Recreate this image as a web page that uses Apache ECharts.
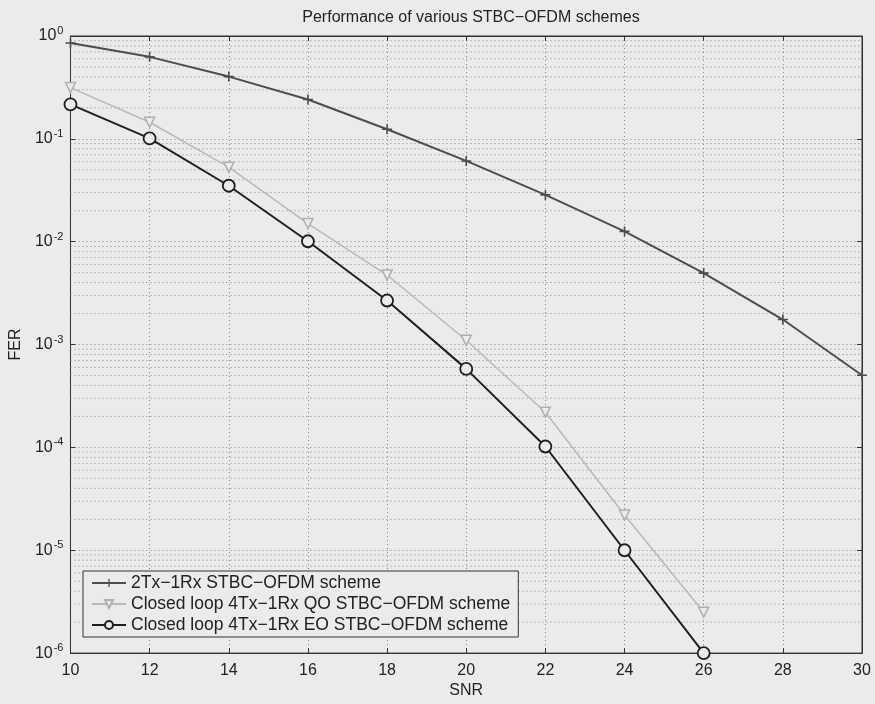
<!DOCTYPE html>
<html>
<head>
<meta charset="utf-8">
<script src="https://cdn.jsdelivr.net/npm/echarts@6/dist/echarts.min.js"></script>
<style>
  html, body { margin: 0; padding: 0; background: #ebebeb; }
  #chart { width: 875px; height: 704px; }
</style>
</head>
<body>
<div id="chart"></div>
<script>
// SNR points (dB)
const snr = [10, 12, 14, 16, 18, 20, 22, 24, 26, 28, 30];

// Frame error rates for each scheme
const ferTwoTx = [0.856, 0.627, 0.403, 0.241, 0.124, 0.061, 0.0285, 0.0126, 0.00495, 0.00175, 0.000503];
const ferQO = [0.315, 0.145, 0.053, 0.0150, 0.00474, 0.0011, 0.00022, 0.000022, 0.0000025];
const ferEO = [0.216, 0.101, 0.035, 0.0101, 0.00268, 0.00058, 0.000102, 0.0000100, 0.0000010];

const seriesNames = [
  '2Tx\u22121Rx STBC\u2212OFDM scheme',
  'Closed loop 4Tx\u22121Rx QO STBC\u2212OFDM scheme',
  'Closed loop 4Tx\u22121Rx EO STBC\u2212OFDM scheme'
];

// Log grid subdivisions within each decade
const decadeExponents = [-6, -5, -4, -3, -2, -1];
const minorSteps = [2, 3, 4, 5, 6, 7, 8, 9];
const snrRange = [10, 30];

const bg = '#ebebeb';
const font = 'Arial, "Liberation Sans", sans-serif';
const gridStyle = { color: '#858585', type: [1, 3], width: 1 };

// one dotted horizontal line per minor grid value, spanning the SNR range
const minorGridSeries = [];
decadeExponents.forEach(e => minorSteps.forEach(k => {
  const v = k * Math.pow(10, e);
  minorGridSeries.push({
    type: 'line', silent: true, symbol: 'none', z: 1,
    data: snrRange.map(x => [x, v]),
    lineStyle: gridStyle,
    tooltip: { show: false }
  });
}));

const pairs = arr => arr.map((v, i) => [snr[i], v]);

const plusPath = 'path://M4.2,0 H5.8 V4.2 H10 V5.8 H5.8 V10 H4.2 V5.8 H0 V4.2 H4.2 Z';

const chart = echarts.init(document.getElementById('chart'), null, { renderer: 'canvas' });

chart.setOption({
  backgroundColor: bg,
  animation: false,
  textStyle: { fontFamily: font },
  title: {
    text: 'Performance of various STBC\u2212OFDM schemes',
    left: 466, top: 5, textAlign: 'center',
    textStyle: { fontSize: 16, fontWeight: 'normal', color: '#222', fontFamily: font }
  },
  grid: {
    left: 70, right: 13, top: 36, bottom: 46,
    show: true, borderColor: '#333', borderWidth: 1, backgroundColor: 'transparent'
  },
  legend: {
    orient: 'vertical',
    left: 83, top: 571,
    backgroundColor: bg,
    borderColor: '#333', borderWidth: 1, borderRadius: 0,
    padding: [3, 8, 3, 8],
    itemGap: 3,
    itemWidth: 34, itemHeight: 10,
    textStyle: { fontSize: 17.5, color: '#222', fontFamily: font },
    data: seriesNames
  },
  xAxis: [{
    type: 'value', min: snrRange[0], max: snrRange[1], interval: 2,
    name: 'SNR', nameLocation: 'middle', nameGap: 27,
    nameTextStyle: { fontSize: 16, color: '#222' },
    axisLine: { show: true, lineStyle: { color: '#333', width: 1 } },
    axisTick: { show: true, inside: true, length: 5, lineStyle: { color: '#333' } },
    axisLabel: { fontSize: 16, color: '#222', margin: 9 },
    splitLine: { show: true, lineStyle: gridStyle }
  }, {
    type: 'value', min: snrRange[0], max: snrRange[1], interval: 2, position: 'top',
    axisLine: { show: true, lineStyle: { color: '#333' } },
    axisTick: { show: true, inside: true, length: 5, lineStyle: { color: '#333' } },
    axisLabel: { show: false },
    splitLine: { show: false }
  }],
  yAxis: [{
    type: 'log', logBase: 10, min: 1e-6, max: 1,
    name: 'FER', nameLocation: 'middle', nameGap: 45,
    nameTextStyle: { fontSize: 16, color: '#222' },
    axisLine: { show: true, lineStyle: { color: '#333', width: 1 } },
    axisTick: { show: true, inside: true, length: 5, lineStyle: { color: '#333' } },
    axisLabel: {
      fontSize: 16, color: '#222', margin: 7,
      formatter: v => '10{sup|' + Math.round(Math.log10(v)) + '}',
      rich: {
        sup: { fontSize: 11, color: '#222', padding: [0, 0, 10, 1], verticalAlign: 'bottom' }
      }
    },
    splitLine: { show: true, lineStyle: gridStyle }
  }, {
    type: 'log', logBase: 10, min: 1e-6, max: 1, position: 'right',
    axisLine: { show: true, lineStyle: { color: '#333' } },
    axisTick: { show: true, inside: true, length: 5, lineStyle: { color: '#333' } },
    axisLabel: { show: false },
    splitLine: { show: false }
  }],
  series: minorGridSeries.concat([
    {
      name: seriesNames[0], type: 'line', data: pairs(ferTwoTx),
      symbol: plusPath, symbolSize: 10,
      lineStyle: { color: '#4d4d4d', width: 2 },
      itemStyle: { color: '#4d4d4d' },
      z: 3
    },
    {
      name: seriesNames[1], type: 'line', data: pairs(ferQO),
      symbol: 'triangle', symbolRotate: 180, symbolSize: 10,
      lineStyle: { color: '#b9b9b9', width: 1.5 },
      itemStyle: { color: bg, borderColor: '#b0b0b0', borderWidth: 1.5 },
      z: 2
    },
    {
      name: seriesNames[2], type: 'line', data: pairs(ferEO),
      symbol: 'circle', symbolSize: 12,
      lineStyle: { color: '#1f1f1f', width: 2 },
      itemStyle: { color: bg, borderColor: '#1f1f1f', borderWidth: 1.8 },
      z: 4
    }
  ])
});
</script>
</body>
</html>
